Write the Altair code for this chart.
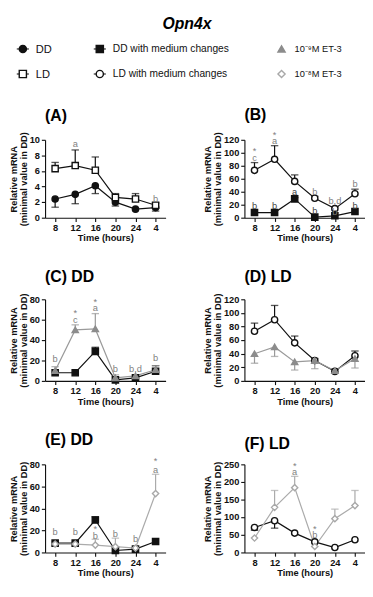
import altair as alt
import pandas as pd

times = ["8", "12", "16", "20", "24", "4"]

S_DD = "DD"
S_LD = "LD"
S_DDM = "DD with medium changes"
S_LDM = "LD with medium changes"
S_E9 = "10⁻⁹M ET-3"
S_E8 = "10⁻⁸M ET-3"

series_order = [S_DD, S_DDM, S_E9, S_LD, S_LDM, S_E8]
legend_col = [0, 1, 2, 0, 1, 2]
legend_row = [0, 0, 0, 1, 1, 1]
shapes = ["circle", "square", "triangle-up", "square", "circle", "diamond"]
fills = ["#111111", "#111111", "#8c8c8c", "#ffffff", "#ffffff", "#ffffff"]
strokes = ["#111111", "#111111", "#8c8c8c", "#111111", "#111111", "#a8a8a8"]
line_colors = ["#111111", "#111111", "#9a9a9a", "#111111", "#111111", "#ababab"]

# Panel A
a_dd = [2.4, 3.0, 4.1, 2.0, 1.1, 1.3]
a_dd_err = [1.35, 1.8, 3.1, 1.5, None, 0.85]
a_ld = [6.3, 6.7, 6.1, 2.6, 2.4, 1.6]
a_ld_err = [7.1, 8.7, 7.8, 3.1, 3.1, 1.9]
# Panel B / D (LD with medium changes)
ldm = [73, 90, 56, 30, 14, 37]
ldm_err = [85, 111, 66, 33, 17, 44]
# DD with medium changes
ddm = [8, 8, 29, 1, 3, 9.5]
ddm_err_b = [None, None, 31, None, None, None]
ddm_err_c = [None, None, 33, None, None, 15]
# Panel C: 10^-9 M ET-3 (DD)
c_e9 = [10, 50, 51, 3, 5, 11]
c_e9_err = [14, 55, 66, 6, None, 15]
# Panel D: 10^-9 M ET-3 (LD)
d_e9 = [40, 50, 28, 30, 15, 33]
d_e9_err = [26, 36, 16, 18, None, 19]
# Panel E: 10^-8 M ET-3 (DD)
e_ddm = [8.5, 8.5, 29.5, 1.8, 3, 10]
e_ddm_err = [None, None, 32.5, None, None, None]
e_e8 = [7.6, 7.6, 6.7, 5.3, 4, 53.5]
e_e8_err = [10, 10, 12, 13, 5, 71]
# Panel F: 10^-8 M ET-3 (LD)
f_ldm = [71, 90, 55, 30, 14, 36]
f_ldm_err = [63, 69, None, None, None, None]
f_e8 = [41, 128, 184, 17, 96, 133]
f_e8_err = [None, 176, 216, None, 123, 176]

GRAY = "#7f7f7f"
DARK = "#444444"
notes_a = [("12", 9.4, "a", GRAY), ("4", 2.4, "b", GRAY)]
notes_b = [("8", 92, "c", GRAY), ("8", 102, "*", GRAY), ("12", 118, "a", GRAY), ("12", 127, "*", GRAY),
           ("20", 40, "b", GRAY), ("24", 25, "b,d", GRAY), ("4", 51, "b", GRAY),
           ("8", 17, "b", DARK), ("12", 17, "b", DARK), ("16", 39, "a", DARK), ("20", 10, "b", DARK),
           ("24", 9, "b", GRAY), ("4", 18, "b", DARK)]
notes_c = [("8", 21, "b", GRAY), ("12", 60, "c", GRAY), ("12", 66, "*", GRAY), ("16", 71, "a", GRAY),
           ("16", 77, "*", GRAY), ("20", 11, "b", GRAY), ("24", 11, "b,d", GRAY), ("4", 22, "b", GRAY)]
notes_d = []
notes_e = [("8", 18, "b", GRAY), ("12", 18, "b", GRAY), ("16", 15, "b", GRAY), ("16", 21, "*", GRAY),
           ("20", 17, "b", GRAY), ("24", 12, "b", GRAY), ("4", 75, "a", GRAY), ("4", 83, "*", GRAY)]
notes_f = [("16", 228, "a", GRAY), ("16", 246, "*", GRAY), ("20", 48, "b", GRAY), ("20", 67, "*", GRAY)]

shape_scale = alt.Scale(domain=series_order, range=shapes)
fill_scale = alt.Scale(domain=series_order, range=fills)
stroke_scale = alt.Scale(domain=series_order, range=strokes)
line_scale = alt.Scale(domain=series_order, range=line_colors)


def panel(title, series_list, ymax, ystep, notes, h):
    rows = []
    for name, vals, errs in series_list:
        for i, (t, v, e) in enumerate(zip(times, vals, errs)):
            rows.append(dict(time=t, idx=i, series=name, value=v, err=e))
    df = pd.DataFrame(rows)
    yaxis = alt.Axis(values=list(range(0, ymax + 1, ystep)),
                     title=["Relative mRNA", "(minimal value in DD)"])
    yscale = alt.Scale(domain=[0, ymax], nice=False)
    x = alt.X("time:N", sort=times,
              scale=alt.Scale(type="point", padding=0.5, domain=times),
              axis=alt.Axis(title="Time (hours)", labelAngle=0))
    y = alt.Y("value:Q", scale=yscale, axis=yaxis)
    lc = alt.Color("series:N", scale=line_scale, legend=None)
    base = alt.Chart(df)
    lines = base.mark_line(strokeWidth=1.3).encode(x=x, y=y, color=lc, order="idx:Q")
    errdf = base.transform_filter("isValid(datum.err)")
    rules = errdf.mark_rule(strokeWidth=1.3).encode(x=x, y=y, y2="err:Q", color=lc)
    caps = errdf.mark_tick(size=8, thickness=1.4).encode(
        x=x, y=alt.Y("err:Q", scale=yscale, axis=yaxis), color=lc)
    pts = base.mark_point(size=45, strokeWidth=1.5, opacity=1, fillOpacity=1).encode(
        x=x, y=y,
        shape=alt.Shape("series:N", scale=shape_scale, legend=None),
        fill=alt.Fill("series:N", scale=fill_scale, legend=None),
        stroke=alt.Stroke("series:N", scale=stroke_scale, legend=None),
    )
    layers = [lines, rules, caps, pts]
    colors = sorted(set(n[3] for n in notes))
    for c in colors:
        nd = pd.DataFrame([dict(time=n[0], ny=n[1], label=n[2]) for n in notes if n[3] == c])
        layers.append(alt.Chart(nd).mark_text(color=c, fontSize=10, baseline="middle").encode(
            x=x, y=alt.Y("ny:Q", scale=yscale, axis=yaxis), text="label:N"))
    return alt.layer(*layers).properties(
        width=130, height=h,
        title=alt.TitleParams(title, anchor="start", frame="group", fontSize=17,
                              fontWeight="bold", dx=0, offset=8))


# Legend block built from the series list
leg_df = pd.DataFrame(dict(series=series_order, col=legend_col, row=legend_row))
lx = alt.X("col:Q", scale=alt.Scale(domain=[0, 1, 2], range=[-24, 59, 255]), axis=None)
ly = alt.Y("row:Q", scale=alt.Scale(domain=[0, 1], range=[8, 35]), axis=None)
leg_base = alt.Chart(leg_df)
stubs = leg_base.transform_filter(alt.FieldOneOfPredicate(field="col", oneOf=[0, 1])).mark_point(
    shape="M-1,0L1,0", size=170, strokeWidth=1.6, color="#111").encode(x=lx, y=ly)
leg_pts = leg_base.mark_point(size=60, strokeWidth=1.5, opacity=1, fillOpacity=1).encode(
    x=lx, y=ly,
    shape=alt.Shape("series:N", scale=shape_scale, legend=None),
    fill=alt.Fill("series:N", scale=fill_scale, legend=None),
    stroke=alt.Stroke("series:N", scale=stroke_scale, legend=None),
)
leg_txt = leg_base.mark_text(align="left", baseline="middle", dx=14, fontSize=11, color="#111").encode(
    x=lx, y=ly, text="series:N",
    size=alt.Size("col:O", scale=alt.Scale(domain=[0, 1, 2], range=[12, 10, 12]), legend=None))
legend_chart = alt.layer(stubs, leg_pts, leg_txt).properties(width=300, height=42)

pA = panel("(A)", [(S_DD, a_dd, a_dd_err), (S_LD, a_ld, a_ld_err)], 10, 2, notes_a, 84)
pB = panel("(B)", [(S_DDM, ddm, ddm_err_b), (S_LDM, ldm, ldm_err)], 120, 20, notes_b, 84)
pC = panel("(C) DD", [(S_DDM, ddm, ddm_err_c), (S_E9, c_e9, c_e9_err)], 80, 20, notes_c, 88)
pD = panel("(D) LD", [(S_LDM, ldm, ldm_err), (S_E9, d_e9, d_e9_err)], 120, 20, notes_d, 88)
pE = panel("(E) DD", [(S_DDM, e_ddm, e_ddm_err), (S_E8, e_e8, e_e8_err)], 80, 20, notes_e, 95)
pF = panel("(F) LD", [(S_LDM, f_ldm, f_ldm_err), (S_E8, f_e8, f_e8_err)], 250, 50, notes_f, 95)

res = dict(x="independent", y="independent", size="independent")


def row(a, b):
    return alt.hconcat(a, b, spacing=40).resolve_scale(**res)


chart = alt.vconcat(legend_chart, row(pA, pB), row(pC, pD), row(pE, pF), spacing=28).resolve_scale(**res).properties(
    title=alt.TitleParams("Opn4x", fontSize=17, fontStyle="italic", fontWeight="bold", anchor="middle", offset=9),
    padding={"left": 0, "top": -14, "right": 0, "bottom": 0},
).configure(font="Liberation Sans").configure_view(stroke=None).configure_axis(
    labelFontSize=10, labelFontWeight="bold", labelColor="#111", titleFontSize=10, titleFontWeight="bold",
    titleColor="#111", domainColor="#111", tickColor="#111", tickSize=4, labelPadding=2, titlePadding=1,
    grid=False, domainWidth=1.2, tickWidth=1.2, titleLineHeight=11,
)

chart.save("out.html", embed_options={"renderer": "svg", "actions": False})
